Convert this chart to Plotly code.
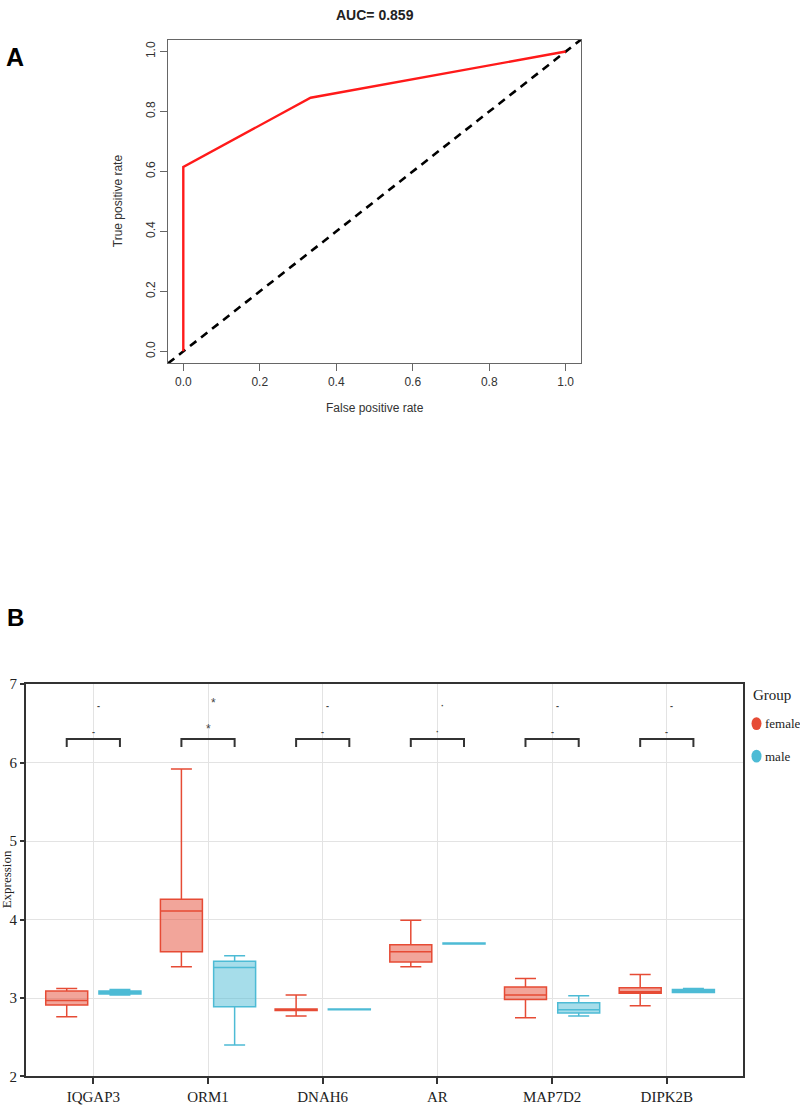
import numpy as np
import plotly.graph_objects as go

W, H = 800, 1118

# ---------------- Data: panel A (ROC) ----------------
roc_fpr = [0.0, 0.0, 0.333, 1.0]
roc_tpr = [0.0, 0.615, 0.846, 1.0]
auc_text = "AUC= 0.859"
roc_ticks = [0.0, 0.2, 0.4, 0.6, 0.8, 1.0]

# ---------------- Data: panel B (boxplots) ----------------
genes = ["IQGAP3", "ORM1", "DNAH6", "AR", "MAP7D2", "DIPK2B"]
groups = ["female", "male"]

female_low = [2.76, 3.40, 2.77, 3.40, 2.75, 2.90]
female_q1 = [2.91, 3.59, 2.84, 3.46, 2.98, 3.06]
female_med = [2.97, 4.11, 2.85, 3.59, 3.04, 3.08]
female_q3 = [3.09, 4.26, 2.86, 3.68, 3.14, 3.13]
female_high = [3.12, 5.92, 3.04, 3.99, 3.25, 3.30]

male_low = [3.04, 2.40, 2.85, 3.69, 2.77, 3.07]
male_q1 = [3.05, 2.89, 2.85, 3.69, 2.81, 3.07]
male_med = [3.07, 3.39, 2.85, 3.70, 2.85, 3.09]
male_q3 = [3.09, 3.47, 2.86, 3.70, 2.94, 3.11]
male_high = [3.11, 3.54, 2.86, 3.70, 3.03, 3.12]

sig_lower = ["-", "*", "-", "·", "-", "-"]
sig_upper = ["-", "*", "-", "·", "-", "-"]

expr_ticks = [2, 3, 4, 5, 6, 7]

# ---------------- Style ----------------
RED = "#E64B35"
CYAN = "#4DBBD5"
RED_FILL = "rgba(230,75,53,0.5)"
CYAN_FILL = "rgba(77,187,213,0.5)"
SANS = "Liberation Sans, Arial, sans-serif"
SERIF = "Liberation Serif, Times New Roman, serif"


def px(x):
    return x / W


def py(y):
    return 1 - y / H


def label(x, y, text, size, family, color="#222", angle=0):
    return dict(x=px(x), y=py(y), xref="paper", yref="paper", text=text,
                xanchor="center", yanchor="middle", showarrow=False,
                textangle=angle, font=dict(size=size, family=family, color=color))


fig = go.Figure()

# ---- Panel A ----
diag = [-0.04, 1.04]
fig.add_trace(go.Scatter(x=diag, y=diag, mode="lines",
                         line=dict(color="black", width=2.6, dash="8px,6px"),
                         xaxis="x", yaxis="y", showlegend=False, hoverinfo="skip"))
fig.add_trace(go.Scatter(x=roc_fpr, y=roc_tpr, mode="lines",
                         line=dict(color="#FF1A1A", width=2.4),
                         xaxis="x", yaxis="y", showlegend=False))

# ---- Panel B ----
pos = np.arange(1, len(genes) + 1)
dodge = 0.232
box_w = 0.366

fig.add_trace(go.Box(
    x=pos - dodge, q1=female_q1, median=female_med, q3=female_q3,
    lowerfence=female_low, upperfence=female_high,
    width=box_w, whiskerwidth=0.5, name="female",
    line=dict(color=RED, width=1.5), fillcolor=RED_FILL,
    xaxis="x2", yaxis="y2", showlegend=False, boxpoints=False))
fig.add_trace(go.Box(
    x=pos + dodge, q1=male_q1, median=male_med, q3=male_q3,
    lowerfence=male_low, upperfence=male_high,
    width=box_w, whiskerwidth=0.5, name="male",
    line=dict(color=CYAN, width=1.5), fillcolor=CYAN_FILL,
    xaxis="x2", yaxis="y2", showlegend=False, boxpoints=False))

# significance brackets
br_top, br_bottom = 6.30, 6.20
for c in pos:
    fig.add_trace(go.Scatter(
        x=[c - dodge, c - dodge, c + dodge, c + dodge],
        y=[br_bottom, br_top, br_top, br_bottom], mode="lines",
        line=dict(color="#333333", width=2), xaxis="x2", yaxis="y2",
        showlegend=False, hoverinfo="skip"))

annotations = []
for c, lo, up in zip(pos, sig_lower, sig_upper):
    big = lo == "*"
    annotations.append(dict(x=c, y=6.43 if big else 6.39, xref="x2", yref="y2",
                            text=lo if big else "<b>" + lo + "</b>", showarrow=False,
                            xanchor="center", yanchor="middle",
                            font=dict(size=12 if big else 9, color="#444", family=SANS)))
    annotations.append(dict(x=c + 0.045, y=6.76 if big else 6.72, xref="x2", yref="y2",
                            text=up if big else "<b>" + up + "</b>", showarrow=False,
                            xanchor="center", yanchor="middle",
                            font=dict(size=12 if big else 9, color="#444", family=SANS)))

# Panel labels, titles, axis titles
annotations += [
    label(15, 50, "<b>A</b>", 25, SANS, "black"),
    label(15, 618, "<b>B</b>", 24, SANS, "black"),
    label(374.5, 7, "<b>" + auc_text + "</b>", 14, SANS, "#222"),
    label(374.5, 406, "False positive rate", 12, SANS, "#333"),
    label(118, 196, "True positive rate", 12, SANS, "#333", -90),
    label(6, 884, "Expression", 13, SERIF, "#222", -90),
]

# Legend (Group) drawn as keys + labels
legend_title_y = 697
legend_rows_y = [726, 759]
legend_colors = [RED, CYAN]
annotations.append(dict(x=px(751), y=py(legend_title_y), xref="paper", yref="paper",
                        text="Group", xanchor="left", yanchor="middle", showarrow=False,
                        font=dict(size=15, family=SERIF, color="#222")))
shapes = []
for g, col, yy in zip(groups, legend_colors, legend_rows_y):
    annotations.append(dict(x=px(763), y=py(yy), xref="paper", yref="paper",
                            text=g, xanchor="left", yanchor="middle", showarrow=False,
                            font=dict(size=13, family=SERIF, color="#222")))
    shapes.append(dict(type="circle", xref="paper", yref="paper",
                       x0=px(751.5), x1=px(761.5), y0=py(yy + 6.5), y1=py(yy - 6.5),
                       fillcolor=col, line=dict(width=0)))

fig.update_layout(
    width=W, height=H,
    margin=dict(l=0, r=0, t=0, b=0),
    paper_bgcolor="white", plot_bgcolor="white",
    boxmode="overlay", showlegend=False,
    annotations=annotations, shapes=shapes,
    xaxis=dict(domain=[px(168), px(581)], range=[-0.04, 1.04],
               tickvals=roc_ticks, ticktext=[f"{t:.1f}" for t in roc_ticks],
               showgrid=False, zeroline=False, showline=True, mirror=True,
               linecolor="#666", linewidth=1.3, ticks="outside", ticklen=7,
               tickcolor="#666", tickwidth=1.3,
               tickfont=dict(size=12, family=SANS, color="#333")),
    yaxis=dict(domain=[py(360.5), py(32)], range=[-0.04, 1.04],
               tickvals=roc_ticks, ticktext=[f"{t:.1f}" for t in roc_ticks],
               tickangle=-90,
               showgrid=False, zeroline=False, showline=True, mirror=True,
               linecolor="#666", linewidth=1.3, ticks="outside", ticklen=7,
               tickcolor="#666", tickwidth=1.3,
               tickfont=dict(size=12, family=SANS, color="#333")),
    xaxis2=dict(domain=[px(26), px(743.3)], range=[0.413, 6.667], anchor="y2",
                tickvals=list(pos), ticktext=genes,
                showgrid=True, gridcolor="#E3E3E3", gridwidth=1,
                zeroline=False, showline=True, mirror=True,
                linecolor="#333", linewidth=2, ticks="outside", ticklen=6,
                tickcolor="#333", tickwidth=1.5,
                tickfont=dict(size=15, family=SERIF, color="#222")),
    yaxis2=dict(domain=[py(1084), py(686)], range=[2, 7], anchor="x2",
                tickvals=expr_ticks,
                showgrid=True, gridcolor="#E3E3E3", gridwidth=1,
                zeroline=False, showline=True, mirror=True,
                linecolor="#333", linewidth=2, ticks="outside", ticklen=4,
                tickcolor="#333", tickwidth=1.5,
                tickfont=dict(size=15, family=SERIF, color="#222")),
)

fig.write_html("out.html", config={"displayModeBar": False},
               post_script="document.body.style.margin='0px';"
                           "document.body.style.overflow='hidden';")
